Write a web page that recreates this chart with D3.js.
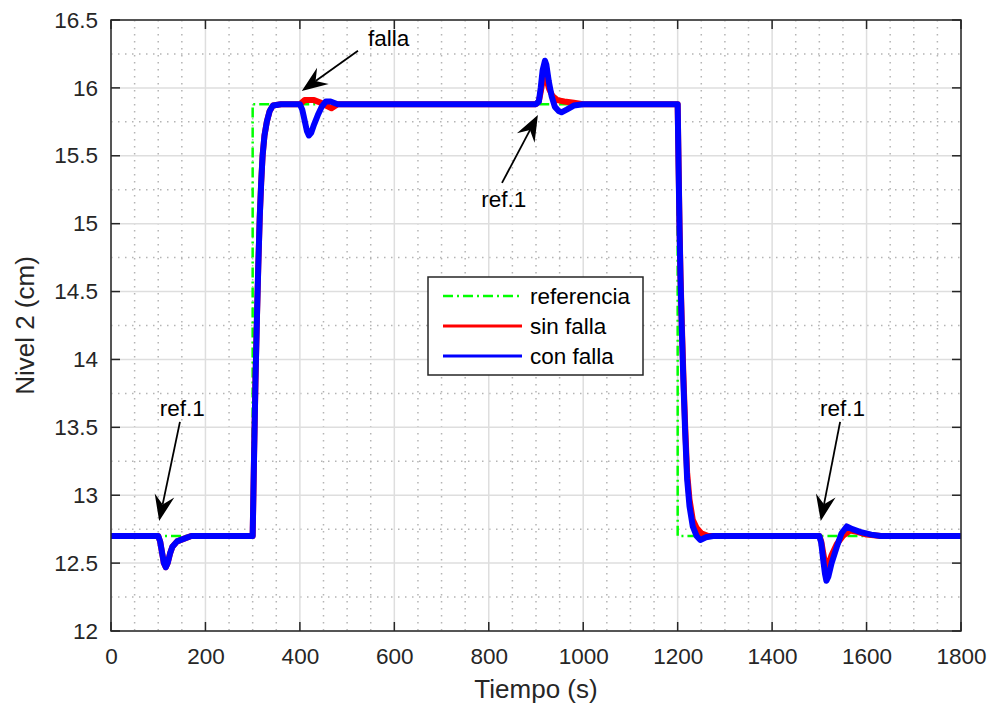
<!DOCTYPE html>
<html>
<head>
<meta charset="utf-8">
<script src="https://cdn.jsdelivr.net/npm/d3@7"></script>
<style>
  body { margin: 0; background: #fff; }
  svg { font-family: "Liberation Sans", Arial, Helvetica, sans-serif; }
</style>
</head>
<body>
<svg id="chart" width="995" height="709"></svg>
<script>
// referencia
const refT = [0, 300, 300, 1200, 1200, 1800]
const refY = [12.7, 12.7, 15.88, 15.88, 12.7, 12.7]

// sin falla
const sinT = [0, 100, 104, 108, 112, 116, 120, 125, 130, 140, 155, 170,
  300, 303, 306, 309, 312, 315, 318, 321, 325, 330, 336, 343, 360,
  400, 410, 430, 445, 455, 467, 480,
  900, 906, 910, 914, 918, 922, 928, 935, 945, 960, 980, 1000,
  1200, 1202, 1204, 1206, 1209, 1212, 1216, 1220, 1225, 1232, 1240, 1250, 1265,
  1500, 1504, 1508, 1512, 1515, 1519, 1526, 1537, 1550, 1565, 1580, 1600, 1630, 1800]
const sinY = [12.7, 12.7, 12.66, 12.58, 12.5, 12.47, 12.5, 12.57, 12.62, 12.66, 12.68, 12.7,
  12.7, 13.3, 13.85, 14.3, 14.7, 15.05, 15.3, 15.5, 15.65, 15.75, 15.83, 15.87, 15.88,
  15.88, 15.91, 15.91, 15.89, 15.87, 15.85, 15.88,
  15.88, 15.9, 15.97, 16.05, 16.09, 16.06, 15.99, 15.94, 15.91, 15.9, 15.89, 15.88,
  15.88, 15.42, 14.98, 14.63, 14.24, 13.9, 13.5, 13.17, 12.97, 12.82, 12.76, 12.72, 12.7,
  12.7, 12.66, 12.58, 12.5, 12.47, 12.49, 12.56, 12.64, 12.7, 12.74, 12.73, 12.71, 12.7, 12.7]

// con falla
const conT = [0, 100, 104, 108, 112, 116, 120, 125, 130, 140, 155, 170,
  300, 303, 306, 309, 312, 315, 318, 321, 325, 330, 336, 343, 360,
  400, 405, 410, 415, 419, 424, 430, 438, 446, 455, 465, 480,
  900, 906, 910, 914, 919, 922, 927, 933, 940, 948, 954, 965, 980, 1000,
  1200, 1202, 1204, 1206, 1209, 1212, 1216, 1220, 1225, 1232, 1240, 1248, 1260, 1275,
  1500, 1504, 1508, 1512, 1515, 1519, 1526, 1537, 1547, 1558, 1570, 1586, 1610, 1630, 1800]
const conY = [12.7, 12.7, 12.66, 12.58, 12.5, 12.47, 12.5, 12.57, 12.62, 12.66, 12.68, 12.7,
  12.7, 13.3, 13.85, 14.3, 14.7, 15.05, 15.3, 15.5, 15.65, 15.75, 15.83, 15.87, 15.88,
  15.88, 15.84, 15.76, 15.68, 15.65, 15.67, 15.73, 15.8, 15.86, 15.9, 15.9, 15.88,
  15.88, 15.9, 16.0, 16.13, 16.2, 16.17, 16.05, 15.94, 15.86, 15.83, 15.82, 15.84, 15.87, 15.88,
  15.88, 15.4, 14.95, 14.6, 14.2, 13.85, 13.45, 13.12, 12.92, 12.77, 12.7, 12.67, 12.69, 12.7,
  12.7, 12.65, 12.53, 12.42, 12.37, 12.4, 12.5, 12.62, 12.72, 12.77, 12.75, 12.73, 12.71, 12.7, 12.7]

const xTicks = [0, 200, 400, 600, 800, 1000, 1200, 1400, 1600, 1800]
const yTicks = [12, 12.5, 13, 13.5, 14, 14.5, 15, 15.5, 16, 16.5]
const xMinor = d3.range(0, 1801, 50)
const yMinor = d3.range(12, 16.51, 0.25)

// annotations: tip and tail of the arrow, text spot (data units)
const notes = [
  { label: "falla", tip: [404, 15.977], tail: [523, 16.274], text: [544, 16.31], anchor: "start" },
  { label: "ref.1", tip: [904, 15.80], tail: [828, 15.30], text: [832, 15.12], anchor: "middle" },
  { label: "ref.1", tip: [102, 12.81], tail: [146, 13.54], text: [151, 13.58], anchor: "middle" },
  { label: "ref.1", tip: [1503, 12.81], tail: [1544, 13.54], text: [1549, 13.58], anchor: "middle" }
]

const legendItems = [
  { name: "referencia", color: "#00ff00", dash: "10,4,2,4" },
  { name: "sin falla", color: "#ff0000", dash: null },
  { name: "con falla", color: "#0000ff", dash: null }
]

const svg = d3.select("#chart")
const mLeft = 111, mRight = 961, mTop = 20, mBottom = 631

const x = d3.scaleLinear().domain([0, 1800]).range([mLeft, mRight])
const y = d3.scaleLinear().domain([12, 16.5]).range([mBottom, mTop])

// minor grid (dotted)
const grid = svg.append("g")
grid.selectAll(".mx").data(xMinor.filter(d => d % 200 !== 0)).enter().append("line")
  .attr("x1", d => x(d)).attr("x2", d => x(d)).attr("y1", mTop).attr("y2", mBottom)
  .attr("stroke", "#b4b4b4").attr("stroke-width", 1.5).attr("stroke-dasharray", "1.5,5.5")
grid.selectAll(".my").data(yMinor.filter(d => Math.abs(d * 2 - Math.round(d * 2)) > 0.01)).enter().append("line")
  .attr("y1", d => y(d)).attr("y2", d => y(d)).attr("x1", mLeft).attr("x2", mRight)
  .attr("stroke", "#b4b4b4").attr("stroke-width", 1.5).attr("stroke-dasharray", "1.5,5.5")

// major grid
grid.selectAll(".gx").data(xTicks).enter().append("line")
  .attr("x1", d => x(d)).attr("x2", d => x(d)).attr("y1", mTop).attr("y2", mBottom)
  .attr("stroke", "#dedede").attr("stroke-width", 1.5)
grid.selectAll(".gy").data(yTicks).enter().append("line")
  .attr("y1", d => y(d)).attr("y2", d => y(d)).attr("x1", mLeft).attr("x2", mRight)
  .attr("stroke", "#dedede").attr("stroke-width", 1.5)

const line = d3.line().x(d => x(d[0])).y(d => y(d[1]))
const plot = svg.append("g")

plot.append("path").datum(d3.zip(refT, refY))
  .attr("d", line).attr("fill", "none")
  .attr("stroke", "#00ff00").attr("stroke-width", 2.5).attr("stroke-dasharray", "10,4,2,4")

plot.append("path").datum(d3.zip(sinT, sinY))
  .attr("d", line).attr("fill", "none")
  .attr("stroke", "#ff0000").attr("stroke-width", 6).attr("stroke-linejoin", "round")

plot.append("path").datum(d3.zip(conT, conY))
  .attr("d", line).attr("fill", "none")
  .attr("stroke", "#0000ff").attr("stroke-width", 6).attr("stroke-linejoin", "round")

// axes
const axisColor = "#262626"
const xAxis = svg.append("g").attr("transform", `translate(0,${mBottom})`)
  .call(d3.axisBottom(x).tickValues(xTicks).tickSize(0).tickPadding(17).tickFormat(d3.format("")))
const yAxis = svg.append("g").attr("transform", `translate(${mLeft},0)`)
  .call(d3.axisLeft(y).tickValues(yTicks).tickSize(0).tickPadding(13).tickFormat(d3.format("")))
;[xAxis, yAxis].forEach(a => {
  a.select(".domain").remove()
  a.selectAll("text").attr("font-size", 22.5).attr("fill", axisColor)
    .attr("font-family", "Liberation Sans, Arial, sans-serif")
})

// inner ticks on all four sides
const tk = svg.append("g").attr("stroke", axisColor).attr("stroke-width", 1.5)
tk.selectAll(".tb").data(xTicks).enter().append("line")
  .attr("x1", d => x(d)).attr("x2", d => x(d)).attr("y1", mBottom).attr("y2", mBottom - 9)
tk.selectAll(".tt").data(xTicks).enter().append("line")
  .attr("x1", d => x(d)).attr("x2", d => x(d)).attr("y1", mTop).attr("y2", mTop + 9)
tk.selectAll(".tl").data(yTicks).enter().append("line")
  .attr("y1", d => y(d)).attr("y2", d => y(d)).attr("x1", mLeft).attr("x2", mLeft + 9)
tk.selectAll(".tr").data(yTicks).enter().append("line")
  .attr("y1", d => y(d)).attr("y2", d => y(d)).attr("x1", mRight).attr("x2", mRight - 9)

svg.append("rect").attr("x", mLeft).attr("y", mTop)
  .attr("width", mRight - mLeft).attr("height", mBottom - mTop)
  .attr("fill", "none").attr("stroke", axisColor).attr("stroke-width", 1.5)

// axis labels
svg.append("text").attr("x", (mLeft + mRight) / 2).attr("y", 698)
  .attr("text-anchor", "middle").attr("font-size", 26).attr("fill", axisColor)
  .text("Tiempo (s)")
svg.append("text").attr("transform", `translate(34,${(mTop + mBottom) / 2}) rotate(-90)`)
  .attr("text-anchor", "middle").attr("font-size", 26).attr("fill", axisColor)
  .text("Nivel 2 (cm)")

// legend
const lg = svg.append("g").attr("transform", "translate(428,277)")
lg.append("rect").attr("width", 215).attr("height", 98)
  .attr("fill", "#fff").attr("stroke", axisColor).attr("stroke-width", 1.5)
legendItems.forEach((d, i) => {
  const yy = 19 + i * 30
  lg.append("line").attr("x1", 15).attr("x2", 94).attr("y1", yy).attr("y2", yy)
    .attr("stroke", d.color).attr("stroke-width", d.dash ? 2.5 : 3)
    .attr("stroke-dasharray", d.dash)
  lg.append("text").attr("x", 102).attr("y", yy + 8)
    .attr("font-size", 22.5).attr("fill", "#000").text(d.name)
})

// annotations
const ann = svg.append("g")
notes.forEach(n => {
  const tx = x(n.tip[0]), ty = y(n.tip[1])
  const sx = x(n.tail[0]), sy = y(n.tail[1])
  const ang = Math.atan2(ty - sy, tx - sx)
  const ux = Math.cos(ang), uy = Math.sin(ang)
  const px = -uy, py = ux
  const L = 26, W = 10, N = 17
  const bx = tx - ux * L, by = ty - uy * L
  const nx = tx - ux * N, ny = ty - uy * N
  ann.append("line").attr("x1", sx).attr("y1", sy).attr("x2", nx).attr("y2", ny)
    .attr("stroke", "#000").attr("stroke-width", 1.8)
  ann.append("path")
    .attr("d", `M${tx},${ty}L${bx + px * W},${by + py * W}L${nx},${ny}L${bx - px * W},${by - py * W}Z`)
    .attr("fill", "#000")
  ann.append("text").attr("x", x(n.text[0])).attr("y", y(n.text[1]))
    .attr("text-anchor", n.anchor).attr("font-size", 22.5).attr("fill", "#000")
    .text(n.label)
})
</script>
</body>
</html>
